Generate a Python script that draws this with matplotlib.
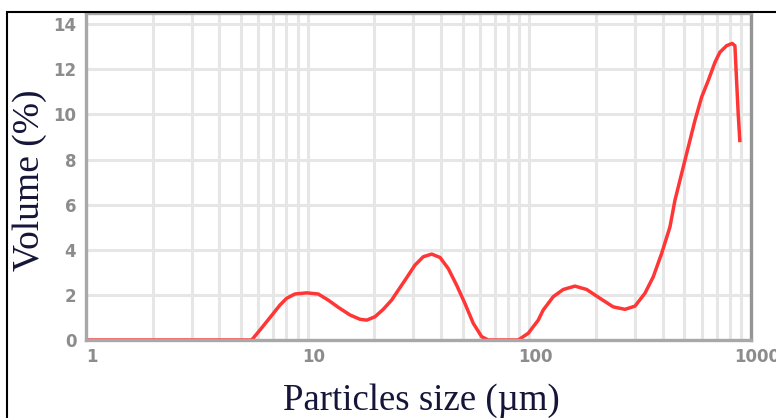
import matplotlib.pyplot as plt
import matplotlib.ticker as mticker
import matplotlib.transforms as mtransforms
from matplotlib.patches import Rectangle
import numpy as np

# particle size (um) and volume (%)
size_um = [1.0, 2.0, 3.0, 4.0, 5.0, 5.59, 6.09, 6.53, 7.00, 7.50, 8.04, 8.76,
           9.90, 11.16, 12.38, 13.74, 15.52, 17.21, 18.46, 20.12, 21.93, 23.92,
           25.63, 27.48, 30.48, 33.22, 36.26, 39.54, 43.07, 47.00, 51.23, 55.85,
           60.93, 65.26, 75.0, 89.13, 98.9, 109.7, 115.5, 128.2, 142.2, 160.6,
           181.4, 208.2, 238.9, 269.9, 299.5, 332.2, 362.2, 395.3, 430.8, 453.7,
           486.4, 521.0, 558.5, 598.7, 641.2, 687.5, 724.0, 776.1, 822.7, 846.1,
           861.0, 875.6, 891.1]
volume_pct = [0.0, 0.0, 0.0, 0.0, 0.0, 0.0, 0.44, 0.81, 1.18, 1.55, 1.85, 2.04,
              2.09, 2.04, 1.77, 1.45, 1.11, 0.92, 0.88, 1.03, 1.36, 1.77,
              2.21, 2.65, 3.32, 3.69, 3.81, 3.66, 3.17, 2.43, 1.62, 0.74,
              0.15, 0.0, 0.0, 0.0, 0.30, 0.88, 1.33, 1.92, 2.24, 2.39,
              2.24, 1.85, 1.47, 1.36, 1.50, 2.07, 2.80, 3.84, 5.01, 6.19,
              7.38, 8.55, 9.73, 10.77, 11.50, 12.31, 12.76, 13.05, 13.15, 13.05,
              11.50, 10.03, 8.77]

y_ticks = [0, 2, 4, 6, 8, 10, 12, 14]
x_ticks = [1, 10, 100, 1000]
x_tick_labels = ['1', '10', '100', '1000']

fig = plt.figure(figsize=(7.76, 4.18), dpi=100)
ax = fig.add_axes([86 / 776, 1 - 340 / 418, (751 - 86) / 776, (340 - 13) / 418])

ax.plot(size_um, volume_pct, color='#ff3636', lw=2.5, solid_joinstyle='round',
        solid_capstyle='butt')

ax.set_xscale('log')
ax.set_xlim(1, 1000)
ax.set_ylim(0, 14.5)
ax.set_yticks(y_ticks)
ax.set_xticks(x_ticks)
ax.set_xticklabels(x_tick_labels)
ax.xaxis.set_minor_locator(mticker.LogLocator(base=10, subs=np.arange(2, 10)))
ax.xaxis.set_minor_formatter(mticker.NullFormatter())

ax.grid(True, which='both', axis='x', color='#e6e6e6', lw=2.2)
ax.grid(True, which='major', axis='y', color='#e6e6e6', lw=2.2)
ax.set_axisbelow(True)

ax.tick_params(which='both', length=0)
ax.tick_params(axis='y', pad=7, labelsize=12, labelcolor='#8c8c8c')
ax.tick_params(axis='x', pad=6, labelsize=12, labelcolor='#8c8c8c')
shift = mtransforms.ScaledTranslation(6 / 100, 0, fig.dpi_scale_trans)
for lab in ax.get_xticklabels() + ax.get_yticklabels():
    lab.set_fontweight('bold')
for lab in ax.get_xticklabels():
    lab.set_transform(lab.get_transform() + shift)

for s in ax.spines.values():
    s.set_color('#a8a8a8')
    s.set_linewidth(2.4)
ax.spines['right'].set_color('#959595')

serif = ['Liberation Serif', 'DejaVu Serif']
fig.text(30 / 776, 1 - 180 / 418, 'Volume (%)', rotation=90, ha='center', va='center',
         family=serif, fontsize=27, color='#15153a')
fig.text(421 / 776, 1 - 401 / 418, 'Particles size (\u00b5m)', ha='center', va='center',
         family=serif, fontsize=26.5, color='#15153a')

# outer frame of the original figure (runs off the right and bottom edges)
fig.patches.append(Rectangle((7 / 776, -0.1), 1.1, 1 - 12 / 418 + 0.1,
                             transform=fig.transFigure, fill=False,
                             edgecolor='black', lw=1.5))

fig.savefig('out.png', dpi=100)
